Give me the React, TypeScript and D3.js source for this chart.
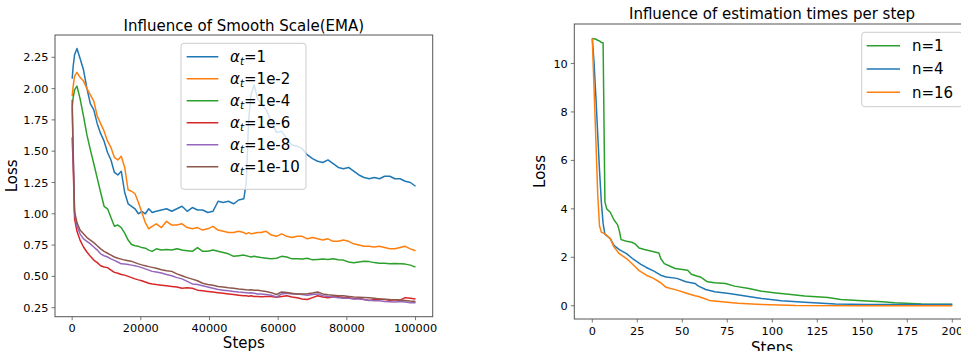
import React from 'react';
import * as d3 from 'd3';

// ---------- Left chart: Influence of Smooth Scale (EMA) ----------
const emaSteps = [
  0, 300, 700, 1400, 2300, 3300, 4300, 5300, 6300, 7300,
  8300, 9300, 10300, 11300, 12300, 13300, 14300, 15300, 16300, 17300,
  18300, 19300, 20300, 21300, 22300, 23300, 24500, 26000, 27500, 29000,
  30500, 32000, 33500, 35000, 36500, 38000, 39500, 41000, 42500, 44000,
  45500, 47000, 48500, 50000, 50700, 51400, 52100, 53000, 54000, 55000,
  56500, 58000, 59500, 61000, 62500, 64000, 65500, 67000, 68500, 70000,
  71500, 73000, 74500, 76000, 77500, 79000, 80500, 82000, 83500, 85000,
  86500, 88000, 89500, 91000, 92500, 94000, 95500, 97000, 98500, 100000,
];
const lossAlpha1 = [
  2.08, 2.18, 2.27, 2.32, 2.24, 2.15, 2.00, 1.88, 1.83, 1.72,
  1.64, 1.58, 1.49, 1.43, 1.33, 1.31, 1.34, 1.17, 1.08, 1.06,
  1.04, 1.00, 1.02, 1.00, 1.04, 1.01, 1.02, 1.03, 1.04, 1.02,
  1.04, 1.06, 1.02, 1.05, 1.03, 1.03, 1.01, 1.02, 1.10, 1.09,
  1.10, 1.08, 1.11, 1.12, 1.25, 1.75, 1.95, 2.03, 1.92, 1.88,
  1.83, 1.74, 1.65, 1.66, 1.60, 1.55, 1.54, 1.52, 1.47, 1.44,
  1.42, 1.41, 1.43, 1.40, 1.37, 1.36, 1.37, 1.34, 1.31, 1.29,
  1.28, 1.29, 1.28, 1.30, 1.30, 1.28, 1.28, 1.26, 1.25, 1.22,
];
const lossAlpha1e2 = [
  1.94, 2.02, 2.10, 2.13, 2.09, 2.06, 2.00, 1.95, 1.90, 1.78,
  1.72, 1.66, 1.58, 1.53, 1.45, 1.43, 1.46, 1.37, 1.19, 1.18,
  1.16, 1.09, 1.01, 0.93, 0.88, 0.90, 0.92, 0.89, 0.94, 0.91,
  0.91, 0.92, 0.89, 0.88, 0.89, 0.87, 0.88, 0.90, 0.87, 0.86,
  0.85, 0.85, 0.86, 0.85, 0.84, 0.85, 0.84, 0.845, 0.85, 0.85,
  0.86, 0.83, 0.82, 0.84, 0.82, 0.81, 0.82, 0.82, 0.80, 0.81,
  0.80, 0.79, 0.80, 0.78, 0.78, 0.79, 0.78, 0.76, 0.75, 0.74,
  0.74, 0.735, 0.74, 0.73, 0.72, 0.72, 0.73, 0.74, 0.72, 0.705,
];
const lossAlpha1e4 = [
  1.85, 1.93, 1.99, 2.02, 1.92, 1.78, 1.63, 1.51, 1.40, 1.285,
  1.17, 1.06, 1.04, 0.97, 0.90, 0.91, 0.89, 0.845, 0.79, 0.755,
  0.745, 0.74, 0.73, 0.725, 0.71, 0.70, 0.72, 0.71, 0.715, 0.71,
  0.72, 0.71, 0.705, 0.70, 0.73, 0.70, 0.70, 0.71, 0.70, 0.69,
  0.68, 0.66, 0.665, 0.67, 0.665, 0.66, 0.655, 0.66, 0.655, 0.65,
  0.645, 0.64, 0.645, 0.66, 0.655, 0.64, 0.64, 0.638, 0.645, 0.632,
  0.635, 0.638, 0.635, 0.64, 0.632, 0.63, 0.615, 0.608, 0.615, 0.62,
  0.618, 0.61, 0.605, 0.605, 0.60, 0.602, 0.60, 0.598, 0.59, 0.574,
];
const lossAlpha1e6 = [
  1.61, 1.38, 0.96, 0.86, 0.79, 0.735, 0.695, 0.66, 0.63, 0.61,
  0.585, 0.575, 0.57, 0.55, 0.532, 0.525, 0.515, 0.51, 0.50, 0.49,
  0.48, 0.472, 0.465, 0.455, 0.445, 0.44, 0.435, 0.43, 0.425, 0.42,
  0.415, 0.405, 0.41, 0.405, 0.39, 0.385, 0.38, 0.375, 0.37, 0.365,
  0.36, 0.355, 0.35, 0.345, 0.345, 0.342, 0.345, 0.34, 0.34, 0.338,
  0.34, 0.34, 0.334, 0.34, 0.345, 0.335, 0.33, 0.32, 0.315, 0.33,
  0.345, 0.335, 0.33, 0.335, 0.338, 0.332, 0.33, 0.322, 0.325, 0.315,
  0.308, 0.315, 0.32, 0.315, 0.31, 0.314, 0.31, 0.33, 0.325, 0.32,
];
const lossAlpha1e8 = [
  1.85, 1.45, 1.00, 0.90, 0.84, 0.80, 0.78, 0.76, 0.735, 0.71,
  0.68, 0.665, 0.655, 0.64, 0.628, 0.615, 0.60, 0.598, 0.595, 0.59,
  0.585, 0.578, 0.57, 0.56, 0.55, 0.54, 0.535, 0.527, 0.515, 0.505,
  0.49, 0.48, 0.46, 0.44, 0.435, 0.425, 0.415, 0.405, 0.395, 0.39,
  0.385, 0.38, 0.375, 0.372, 0.37, 0.368, 0.37, 0.365, 0.36, 0.36,
  0.355, 0.35, 0.335, 0.36, 0.365, 0.36, 0.36, 0.355, 0.35, 0.355,
  0.36, 0.345, 0.34, 0.335, 0.33, 0.325, 0.325, 0.32, 0.32, 0.315,
  0.31, 0.305, 0.305, 0.30, 0.298, 0.295, 0.30, 0.295, 0.29, 0.29,
];
const lossAlpha1e10 = [
  1.91, 1.50, 1.02, 0.93, 0.87, 0.84, 0.81, 0.79, 0.77, 0.745,
  0.72, 0.70, 0.685, 0.67, 0.655, 0.645, 0.638, 0.63, 0.625, 0.62,
  0.61, 0.60, 0.592, 0.585, 0.578, 0.572, 0.565, 0.553, 0.545, 0.54,
  0.52, 0.505, 0.49, 0.478, 0.465, 0.445, 0.435, 0.43, 0.42, 0.415,
  0.41, 0.406, 0.40, 0.395, 0.393, 0.392, 0.393, 0.39, 0.39, 0.385,
  0.38, 0.37, 0.355, 0.375, 0.372, 0.365, 0.36, 0.36, 0.362, 0.368,
  0.375, 0.36, 0.353, 0.35, 0.345, 0.345, 0.34, 0.335, 0.334, 0.332,
  0.33, 0.325, 0.32, 0.318, 0.315, 0.314, 0.312, 0.308, 0.303, 0.30,
];
const emaSeries = [lossAlpha1, lossAlpha1e2, lossAlpha1e4, lossAlpha1e6, lossAlpha1e8, lossAlpha1e10];
const emaLabels = ['1', '1e-2', '1e-4', '1e-6', '1e-8', '1e-10'];
const emaColors = ['#1f77b4', '#ff7f0e', '#2ca02c', '#d62728', '#9467bd', '#8c564b'];
const emaXTicks = [0, 20000, 40000, 60000, 80000, 100000];
const emaYTicks = [0.25, 0.5, 0.75, 1.0, 1.25, 1.5, 1.75, 2.0, 2.25];

// ---------- Right chart: Influence of estimation times per step ----------
const stepsN1 = [
  0, 1, 2, 3, 4, 5, 6, 7, 8, 10, 12, 14, 15, 16, 19, 22, 24, 26, 29, 33,
  37, 38, 40, 42, 46, 50, 53, 55, 58, 60, 64, 68, 74, 79, 87, 94, 102, 109, 118, 131,
  138, 150, 161, 168, 183, 200,
];
const lossN1 = [
  11.03, 11.02, 11.0, 10.96, 10.93, 10.87, 10.86, 4.3, 4.0, 3.86, 3.55, 3.35, 3.1, 2.73, 2.66, 2.62, 2.54, 2.38, 2.32, 2.25,
  2.18, 1.95, 1.74, 1.67, 1.54, 1.50, 1.47, 1.30, 1.23, 1.19, 0.99, 0.95, 0.92, 0.81, 0.715, 0.60, 0.53, 0.47, 0.40, 0.345,
  0.26, 0.205, 0.165, 0.12, 0.07, 0.06,
];
const stepsN4 = [
  0, 1, 2, 3, 4, 5, 6, 7, 10, 12, 15, 19, 23, 27, 30, 34, 38, 41, 47, 52,
  57, 59, 63, 68, 76, 85, 94, 105, 118, 135, 153, 200,
];
const lossN4 = [
  11.03, 10.0, 8.6, 7.1, 5.6, 4.3, 3.4, 2.95, 2.77, 2.49, 2.32, 2.15, 1.91, 1.71, 1.58, 1.44, 1.26, 1.19, 1.13, 0.99,
  0.92, 0.81, 0.67, 0.575, 0.51, 0.40, 0.30, 0.205, 0.14, 0.07, 0.055, 0.05,
];
const stepsN16 = [
  0, 1, 2, 3, 4, 5, 7, 10, 12, 15, 19, 23, 26, 30, 34, 38, 41, 47, 52, 57,
  59, 63, 65, 72, 81, 94, 113, 150, 200,
];
const lossN16 = [
  11.03, 8.9, 6.8, 4.6, 3.3, 3.04, 2.97, 2.77, 2.43, 2.15, 1.95, 1.67, 1.45, 1.26, 1.13, 0.95, 0.76, 0.645, 0.53, 0.41,
  0.38, 0.28, 0.22, 0.165, 0.10, 0.055, 0.015, 0.005, 0.0,
];
const estSteps = [stepsN1, stepsN4, stepsN16];
const estLoss = [lossN1, lossN4, lossN16];
const estLabels = ['n=1', 'n=4', 'n=16'];
const estColors = ['#2ca02c', '#1f77b4', '#ff7f0e'];
const estXTicks = [0, 25, 50, 75, 100, 125, 150, 175, 200];
const estYTicks = [0, 2, 4, 6, 8, 10];

const FONT = '"DejaVu Sans", Verdana, sans-serif';
const TICK_FS = 11.3;
const LABEL_FS = 15;
const SPINE = '#555';

export default function App() {
  // Left axes geometry
  const L = { x0: 55, x1: 432.7, y0: 35, y1: 316.7 };
  const xL = d3.scaleLinear().domain([-5000, 105000]).range([L.x0, L.x1]);
  const yL = d3.scaleLinear().domain([0.178, 2.428]).range([L.y1, L.y0]);

  // Right axes geometry (extends beyond the picture's right edge)
  const R = { x0: 574.3, x1: 970.3, y0: 24, y1: 319 };
  const xR = d3.scaleLinear().domain([-10, 210]).range([R.x0, R.x1]);
  const yR = d3.scaleLinear().domain([-0.547, 11.63]).range([R.y1, R.y0]);

  const lineL = d3
    .line<number>()
    .x((_, i) => xL(emaSteps[i]))
    .y((d) => yL(d));

  const lineR = (steps: number[]) =>
    d3
      .line<number>()
      .x((_, i) => xR(steps[i]))
      .y((d) => yR(d));

  const tickLen = 3.5;

  return (
    <svg
      width={961}
      height={351}
      style={{ position: 'absolute', left: 0, top: 0, background: '#fff' }}
      fontFamily={FONT}
    >
      <rect x={0} y={0} width={961} height={351} fill="#fff" />
      <defs>
        <clipPath id="clipL">
          <rect x={L.x0} y={L.y0} width={L.x1 - L.x0} height={L.y1 - L.y0} />
        </clipPath>
        <clipPath id="clipR">
          <rect x={R.x0} y={R.y0} width={R.x1 - R.x0} height={R.y1 - R.y0} />
        </clipPath>
      </defs>

      {/* ---------- Left chart ---------- */}
      <text x={(L.x0 + L.x1) / 2} y={30.5} textAnchor="middle" fontSize={LABEL_FS} fill="#000">
        Influence of Smooth Scale(EMA)
      </text>
      <g clipPath="url(#clipL)">
        {emaSeries.map((s, i) => (
          <path
            key={i}
            d={lineL(s) || ''}
            fill="none"
            stroke={emaColors[i]}
            strokeWidth={1.5}
            strokeLinejoin="round"
          />
        ))}
      </g>
      <rect x={L.x0} y={L.y0} width={L.x1 - L.x0} height={L.y1 - L.y0} fill="none" stroke={SPINE} strokeWidth={1} />
      {emaXTicks.map((t) => (
        <g key={t}>
          <line x1={xL(t)} x2={xL(t)} y1={L.y1} y2={L.y1 + tickLen} stroke={SPINE} strokeWidth={0.8} />
          <text x={xL(t)} y={L.y1 + 15.7} textAnchor="middle" fontSize={TICK_FS} fill="#000">
            {t}
          </text>
        </g>
      ))}
      {emaYTicks.map((t) => (
        <g key={t}>
          <line x1={L.x0 - tickLen} x2={L.x0} y1={yL(t)} y2={yL(t)} stroke={SPINE} strokeWidth={0.8} />
          <text x={L.x0 - 6.5} y={yL(t)} dy="0.36em" textAnchor="end" fontSize={TICK_FS} fill="#000">
            {d3.format('.2f')(t)}
          </text>
        </g>
      ))}
      <text x={(L.x0 + L.x1) / 2} y={347.7} textAnchor="middle" fontSize={LABEL_FS} fill="#000">
        Steps
      </text>
      <text
        transform={`translate(17.3,${(L.y0 + L.y1) / 2}) rotate(-90)`}
        textAnchor="middle"
        fontSize={LABEL_FS}
        fill="#000"
      >
        Loss
      </text>

      {/* Left legend */}
      <g>
        <rect x={181} y={43.3} width={125} height={146} rx={3} fill="#fff" fillOpacity={0.8} stroke="#cccccc" strokeWidth={1} />
        {emaLabels.map((lab, i) => {
          const cy = 56.7 + i * 22;
          return (
            <g key={lab}>
              <line x1={186.7} x2={218.3} y1={cy} y2={cy} stroke={emaColors[i]} strokeWidth={1.5} />
              <text x={230} y={cy} dy="0.36em" fontSize={LABEL_FS} fill="#000">
                <tspan fontStyle="italic">α</tspan>
                <tspan fontStyle="italic" fontSize={10.5} dy={3}>t</tspan>
                <tspan dy={-3}>={lab}</tspan>
              </text>
            </g>
          );
        })}
      </g>

      {/* ---------- Right chart ---------- */}
      <text x={772} y={18.5} textAnchor="middle" fontSize={LABEL_FS} fill="#000">
        Influence of estimation times per step
      </text>
      <g clipPath="url(#clipR)">
        {estLoss.map((s, i) => (
          <path
            key={i}
            d={lineR(estSteps[i])(s) || ''}
            fill="none"
            stroke={estColors[i]}
            strokeWidth={1.5}
            strokeLinejoin="round"
          />
        ))}
      </g>
      <rect x={R.x0} y={R.y0} width={R.x1 - R.x0} height={R.y1 - R.y0} fill="none" stroke={SPINE} strokeWidth={1} />
      {estXTicks.map((t) => (
        <g key={t}>
          <line x1={xR(t)} x2={xR(t)} y1={R.y1} y2={R.y1 + tickLen} stroke={SPINE} strokeWidth={0.8} />
          <text x={xR(t)} y={R.y1 + 15.8} textAnchor="middle" fontSize={TICK_FS} fill="#000">
            {t}
          </text>
        </g>
      ))}
      {estYTicks.map((t) => (
        <g key={t}>
          <line x1={R.x0 - tickLen} x2={R.x0} y1={yR(t)} y2={yR(t)} stroke={SPINE} strokeWidth={0.8} />
          <text x={R.x0 - 6.5} y={yR(t)} dy="0.36em" textAnchor="end" fontSize={TICK_FS} fill="#000">
            {t}
          </text>
        </g>
      ))}
      <text x={772} y={352.7} textAnchor="middle" fontSize={LABEL_FS} fill="#000">
        Steps
      </text>
      <text
        transform={`translate(545,${(R.y0 + R.y1) / 2}) rotate(-90)`}
        textAnchor="middle"
        fontSize={LABEL_FS}
        fill="#000"
      >
        Loss
      </text>

      {/* Right legend */}
      <g>
        <rect x={861.7} y={32.3} width={101} height={74.4} rx={3} fill="#fff" fillOpacity={0.8} stroke="#cccccc" strokeWidth={1} />
        {estLabels.map((lab, i) => {
          const cy = 45.7 + i * 23.3;
          return (
            <g key={lab}>
              <line x1={866.7} x2={900} y1={cy} y2={cy} stroke={estColors[i]} strokeWidth={1.5} />
              <text x={912} y={cy} dy="0.36em" fontSize={LABEL_FS} fill="#000">
                {lab}
              </text>
            </g>
          );
        })}
      </g>
    </svg>
  );
}
